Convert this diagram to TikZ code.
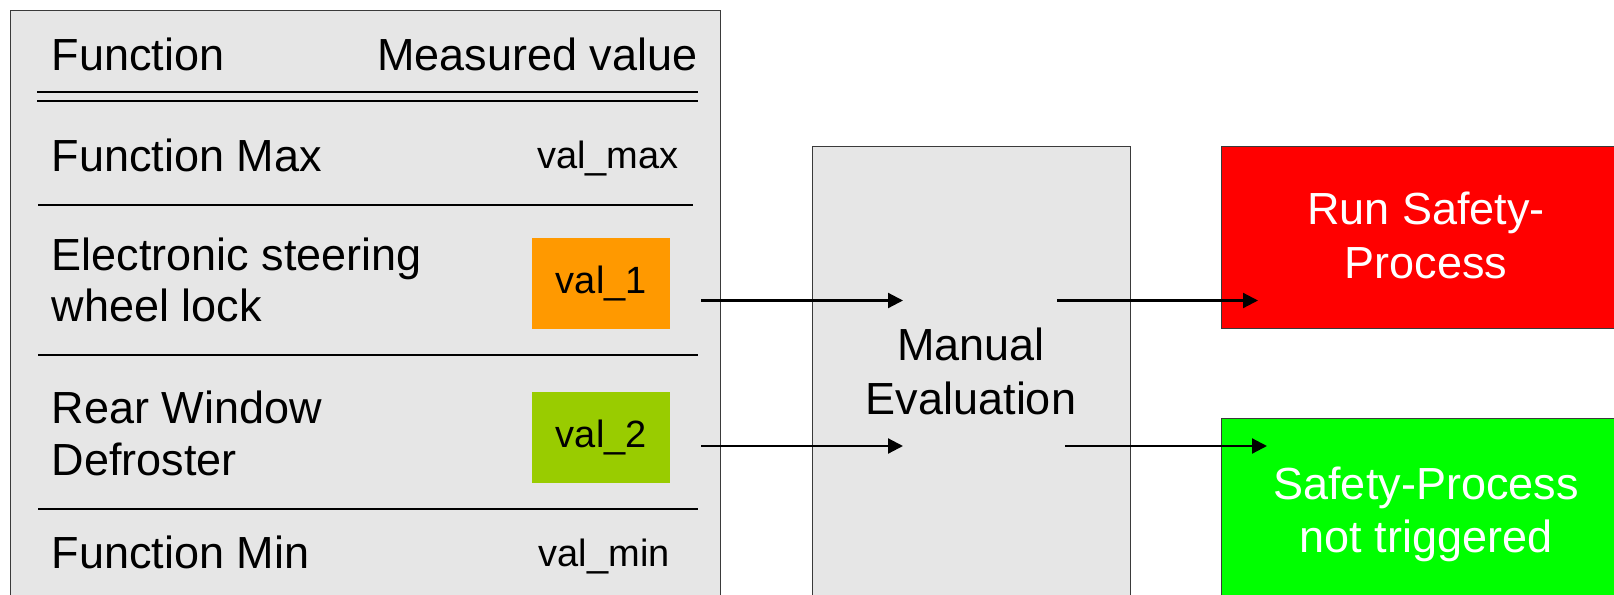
\documentclass[tikz,border=0pt]{standalone}
\usepackage{fontspec}
\setmainfont{Liberation Sans}
\usetikzlibrary{arrows.meta}
\definecolor{panelgray}{HTML}{E6E6E6}
\definecolor{bordergray}{HTML}{3A3A3A}
\definecolor{orangeval}{HTML}{FF9900}
\definecolor{greenval}{HTML}{99CC00}
\definecolor{redbox}{HTML}{FF0000}
\definecolor{greenbox}{HTML}{00FF00}
\tikzset{
  panelbox/.style={draw=bordergray, line width=0.5pt, fill=panelgray, anchor=north west, inner sep=0pt},
  valbox/.style={fill=#1, anchor=north west, inner sep=0pt, minimum width=69pt, minimum height=45.5pt},
  outbox/.style={draw=bordergray, line width=0.5pt, fill=#1, anchor=north west, inner sep=0pt},
  maintext/.style={inner sep=0pt, font=\fontsize{22.5pt}{25.5pt}\selectfont},
  valtext/.style={inner sep=0pt, font=\fontsize{19pt}{22pt}\selectfont},
  sepline/.style={line width=1pt, black},
  dblline/.style={line width=1pt, black},
  arrowline/.style={line width=1.1pt, -{Triangle[length=7.5pt,width=7.5pt]}},
}
\begin{document}
\begin{tikzpicture}[x=0.5pt,y=-0.5pt]
\clip (0,0) rectangle (1614,595);
\fill[white] (0,0) rectangle (1614,595);
% left panel
\node[panelbox, minimum width=355pt, minimum height=310pt] (panel) at (10,10) {};
\node[maintext, anchor=base west] (hfun) at (51.5,70) {Function};
\node[maintext, anchor=base east] (hmeas) at (698,70) {Measured value};
\draw[dblline] (37,91.7) -- (698,91.7);
\draw[dblline] (37,101) -- (698,101);
\node[maintext, anchor=base west] (fmax) at (51.5,171) {Function Max};
\node[valtext, anchor=base east] (vmax) at (679,168) {val\_max};
\draw[sepline] (38,205) -- (693,205);
\node[maintext, anchor=base west] (fesl1) at (51.5,270) {Electronic steering};
\node[maintext, anchor=base west] (fesl2) at (51.5,321) {wheel lock};
\node[valbox=orangeval] (v1) at (532,238) {};
\node[valtext] (v1t) at (v1.center) {val\_1};
\draw[sepline] (38,355) -- (698,355);
\node[maintext, anchor=base west] (frw1) at (51.5,423) {Rear Window};
\node[maintext, anchor=base west] (frw2) at (51.5,475) {Defroster};
\node[valbox=greenval] (v2) at (532,392) {};
\node[valtext] (v2t) at (v2.center) {val\_2};
\draw[sepline] (38,508.5) -- (698,508.5);
\node[maintext, anchor=base west] (fmin) at (51.5,568) {Function Min};
\node[valtext, anchor=base east] (vmin) at (670,566) {val\_min};
% manual evaluation
\node[panelbox, minimum width=159pt, minimum height=240pt] (eval) at (812,146) {};
\node[maintext, anchor=base] (evalt1) at (971,360) {Manual};
\node[maintext, anchor=base] (evalt2) at (971,414) {Evaluation};
% outcome boxes
\node[outbox=redbox, minimum width=215pt, minimum height=91pt] (run) at (1221,146) {};
\node[maintext, anchor=base, text=white] (runt1) at (1426,224) {Run Safety-};
\node[maintext, anchor=base, text=white] (runt2) at (1426,278) {Process};
\node[outbox=greenbox, minimum width=215pt, minimum height=120pt] (nt) at (1221,418) {};
\node[maintext, anchor=base, text=white] (ntt1) at (1426,499) {Safety-Process};
\node[maintext, anchor=base, text=white] (ntt2) at (1426,552) {not triggered};
% connectors
\coordinate (a1s) at (701,300.5);
\coordinate (a1e) at (903,300.5);
\coordinate (b1s) at (1057,300.5);
\coordinate (b1e) at (1258,300.5);
\coordinate (a2s) at (701,446);
\coordinate (a2e) at (903,446);
\coordinate (b2s) at (1065,446);
\coordinate (b2e) at (1267,446);
\draw[arrowline] (a1s) -- (a1e);
\draw[arrowline] (b1s) -- (b1e);
\draw[arrowline] (a2s) -- (a2e);
\draw[arrowline] (b2s) -- (b2e);
\end{tikzpicture}
\end{document}
